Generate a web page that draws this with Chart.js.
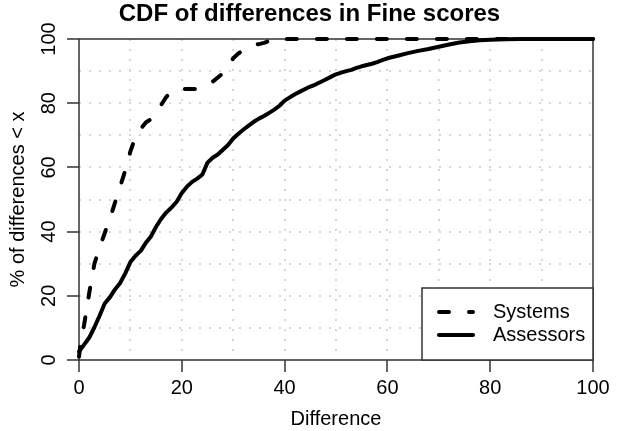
<!DOCTYPE html>
<html><head><meta charset="utf-8">
<script src="https://cdn.jsdelivr.net/npm/chart.js@4.4.0/dist/chart.umd.min.js"></script>
<style>html,body{margin:0;padding:0;background:#fff}#wrap{width:619px;height:431px}</style>
</head><body><div id="wrap"><canvas id="c" width="619" height="431"></canvas></div>
<script>
const titleText = 'CDF of differences in Fine scores';
const xTitle = 'Difference';
const yTitle = '% of differences < x';
const seriesNames = ['Systems', 'Assessors'];
const xTickLabels = [0, 20, 40, 60, 80, 100];
const yTickLabels = [0, 20, 40, 60, 80, 100];

const systemsX = [0, 0.3, 1, 2, 3, 4, 5, 6, 7, 8, 9, 10, 11, 12, 13, 14, 15, 16, 17, 18, 19, 20, 23, 24, 25, 26, 27, 28, 29, 30, 31, 32, 33, 34, 35, 36, 37, 38, 100];
const systemsY = [1, 5, 11, 21, 30, 35, 39.5, 44, 49, 54, 59, 65, 69.5, 72, 74, 75, 77, 79.5, 82, 83.5, 84.4, 84.4, 84.4, 85, 86, 86.7, 88, 89.3, 91, 94, 95.5, 96.5, 97.5, 98.3, 98.4, 98.8, 99.4, 100, 100];

const assessorsX = [0,1,2,3,4,5,6,7,8,9,10,11,12,13,14,15,16,17,18,19,20,21,22,23,24,25,26,27,28,29,30,31,32,33,34,35,36,37,38,39,40,41,42,43,44,45,46,47,48,49,50,51,52,53,54,55,56,57,58,59,60,62,64,66,68,70,72,74,76,78,80,83,86,90,100];
const assessorsY = [2.6,4.8,7,10.2,13.8,17.6,19.5,22,24,27,30.5,32.5,34,36.5,38.5,41.5,44,46,47.5,49.3,52,54,55.5,56.5,57.8,61.5,63,64,65.5,67,69,70.5,71.8,73,74.2,75.2,76,77,78,79.2,80.8,81.8,82.8,83.6,84.4,85.2,85.8,86.6,87.4,88.2,89,89.5,90,90.4,91,91.5,91.9,92.3,92.8,93.4,94,94.8,95.6,96.3,96.9,97.6,98.3,98.9,99.3,99.6,99.8,99.9,100,100,100];

const FONT = "'Liberation Sans', Arial, sans-serif";
const AXIS_COLOR = '#333';
const DASH = [10, 20];

function toPoints(xs, ys) { return xs.map((x, i) => ({x: x, y: ys[i]})); }

const boxAndTitle = {
  id: 'boxAndTitle',
  beforeDatasetsDraw(chart) {
    const {ctx, chartArea: a} = chart;
    ctx.save();
    ctx.setLineDash([]);
    ctx.strokeStyle = AXIS_COLOR;
    ctx.lineWidth = 1.5;
    ctx.strokeRect(a.left, a.top, a.right - a.left, a.bottom - a.top);
    ctx.restore();
  },
  afterDraw(chart) {
    const {ctx, chartArea: a} = chart;
    ctx.save();
    ctx.setLineDash([]);
    ctx.fillStyle = '#000';
    ctx.font = 'bold 24px ' + FONT;
    ctx.textAlign = 'center';
    ctx.textBaseline = 'middle';
    ctx.fillText(titleText, chart.width / 2, 14);
    // legend
    const w = 171, h = 72;
    const L = a.right - w, T = a.bottom - h;
    ctx.fillStyle = '#fff';
    ctx.fillRect(L, T, w, h);
    ctx.strokeStyle = AXIS_COLOR;
    ctx.lineWidth = 1.5;
    ctx.strokeRect(L, T, w, h);
    const rows = [T + 24, T + 47];
    chart.data.datasets.forEach((ds, i) => {
      ctx.strokeStyle = ds.borderColor;
      ctx.lineWidth = ds.borderWidth;
      ctx.lineCap = 'round';
      ctx.setLineDash(ds.borderDash || []);
      ctx.beginPath();
      ctx.moveTo(L + 17, rows[i]);
      ctx.lineTo(L + 51, rows[i]);
      ctx.stroke();
      ctx.setLineDash([]);
      ctx.fillStyle = '#000';
      ctx.font = '20px ' + FONT;
      ctx.textAlign = 'left';
      ctx.textBaseline = 'middle';
      ctx.fillText(ds.label, L + 71, rows[i]);
    });
    ctx.restore();
  }
};

const gridColor = (c) => (c.tick && (c.tick.value === 0 || c.tick.value === 100)) ? 'rgba(0,0,0,0)' : '#d6d6d6';
const tickColor = (c) => (c.tick && c.tick.value % 20 === 0) ? AXIS_COLOR : 'rgba(0,0,0,0)';

new Chart(document.getElementById('c'), {
  type: 'line',
  data: {
    datasets: [
      {label: seriesNames[0], data: toPoints(systemsX, systemsY), borderColor: '#000', borderWidth: 4, borderDash: DASH, borderCapStyle: 'round', borderJoinStyle: 'round', pointRadius: 0, tension: 0, fill: false, clip: 8},
      {label: seriesNames[1], data: toPoints(assessorsX, assessorsY), borderColor: '#000', borderWidth: 4, borderCapStyle: 'round', borderJoinStyle: 'round', pointRadius: 0, tension: 0, fill: false, clip: 8}
    ]
  },
  options: {
    responsive: false,
    animation: false,
    devicePixelRatio: 1,
    layout: {padding: {top: 39, right: 26, left: 0, bottom: 0}},
    plugins: {legend: {display: false}, title: {display: false}, tooltip: {enabled: false}},
    scales: {
      x: {
        type: 'linear', min: 0, max: 100,
        afterFit(s) { s.height = 71; },
        ticks: {stepSize: 10, autoSkip: false, maxRotation: 0, padding: 4, color: '#000', font: {family: FONT, size: 20},
          callback: (v) => xTickLabels.includes(v) ? String(v) : ''},
        grid: {color: gridColor, lineWidth: 2, tickColor: tickColor, tickLength: 12, tickWidth: 1.5, tickBorderDash: []},
        border: {display: false, dash: [2, 8], color: AXIS_COLOR, width: 1.5},
        title: {display: true, text: xTitle, color: '#000', font: {family: FONT, size: 20}, padding: {top: 0, bottom: 0}}
      },
      y: {
        type: 'linear', min: 0, max: 100,
        afterFit(s) { s.width = 79; },
        ticks: {stepSize: 10, autoSkip: false, minRotation: 90, maxRotation: 90, crossAlign: 'center', padding: 1, color: '#000', font: {family: FONT, size: 20},
          callback: (v) => yTickLabels.includes(v) ? String(v) : ''},
        grid: {color: gridColor, lineWidth: 2, tickColor: tickColor, tickLength: 12, tickWidth: 1.5, tickBorderDash: []},
        border: {display: false, dash: [2, 8], color: AXIS_COLOR, width: 1.5},
        title: {display: true, text: yTitle, color: '#000', font: {family: FONT, size: 20}, padding: {top: 6, bottom: 0}}
      }
    }
  },
  plugins: [boxAndTitle]
});
</script></body></html>
